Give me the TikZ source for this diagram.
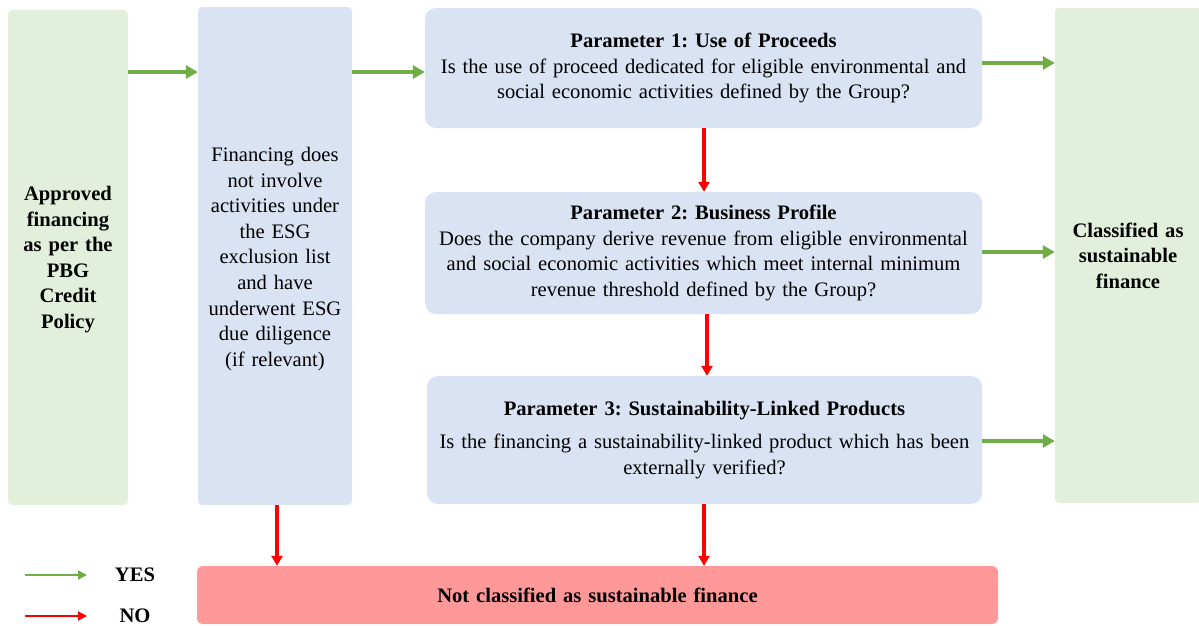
\documentclass[tikz,border=0pt]{standalone}
\usepackage{fontspec}
\setmainfont{Liberation Serif}
\usetikzlibrary{arrows.meta}
\definecolor{boxgreen}{HTML}{E2EFDA}
\definecolor{boxblue}{HTML}{DAE3F3}
\definecolor{boxred}{HTML}{FF9999}
\definecolor{yesgreen}{HTML}{70AD47}
\definecolor{nored}{HTML}{FF0000}
\frenchspacing
\begin{document}
\begin{tikzpicture}[x=1pt,y=-1pt,
  box/.style={rectangle, rounded corners=11pt, inner sep=0pt, align=center,
    font=\fontsize{20.6}{25.6}\selectfont},
  tallbox/.style={box, rounded corners=4pt},
  greenbox/.style={box, fill=boxgreen},
  bluebox/.style={box, fill=boxblue},
  redbox/.style={box, fill=boxred, rounded corners=6pt},
  boxtext/.style={inner sep=0pt, align=center, font=\fontsize{20.6}{25.6}\selectfont},
  yes/.style={draw=yesgreen, line width=3.2pt, -{Triangle[length=12pt,width=13pt]}},
  no/.style={draw=nored, line width=3.2pt, -{Triangle[length=10pt,width=11pt]}},
  yeskey/.style={draw=yesgreen, line width=2pt, -{Triangle[length=9pt,width=9pt]}},
  nokey/.style={draw=nored, line width=2pt, -{Triangle[length=9pt,width=9pt]}},
  keytext/.style={font=\fontsize{20.6}{24}\selectfont\bfseries, inner sep=0pt}
]
\useasboundingbox (0,0) rectangle (1199,625);

% tall columns, text set a little below centre
\node[greenbox, tallbox, minimum width=120pt, minimum height=495pt] (src) at (68,257.5) {};
\node[boxtext, text width=114pt, font=\fontsize{20.6}{25.6}\selectfont\bfseries] (srctext) at ([yshift=-2pt]src.center)
  {Approved\\ financing\\ as per the\\ PBG\\ Credit\\ Policy};
\node[bluebox, tallbox, minimum width=154pt, minimum height=498pt] (excl) at (275,256) {};
\node[boxtext, text width=150pt] (excltext) at ([yshift=-3pt]excl.center)
  {Financing does\\ not involve\\ activities under\\ the ESG\\ exclusion list\\ and have\\ underwent ESG\\ due diligence\\ (if relevant)};

% parameter boxes
\node[bluebox, minimum width=557pt, minimum height=120pt, text width=552pt] (p1) at (703.5,68)
  {\textbf{Parameter 1: Use of Proceeds}\\ Is the use of proceed dedicated for eligible environmental and\\ social economic activities defined by the Group?};
\node[bluebox, minimum width=557pt, minimum height=122pt, text width=552pt] (p2) at (703.5,253)
  {\textbf{Parameter 2: Business Profile}\\ Does the company derive revenue from eligible environmental\\ and social economic activities which meet internal minimum\\ revenue threshold defined by the Group?};
\node[bluebox, minimum width=555pt, minimum height=128pt, text width=552pt] (p3) at (704.5,440)
  {\textbf{Parameter 3: Sustainability-Linked Products}\\[7pt] Is the financing a sustainability-linked product which has been\\ externally verified?};

% outcomes
\node[greenbox, tallbox, minimum width=146pt, minimum height=495pt, text width=140pt] (cls) at (1128,255.5)
  {\bfseries Classified as\\ sustainable\\ finance};
\node[redbox, minimum width=801pt, minimum height=58pt, text width=790pt] (nc) at (597.5,595)
  {\bfseries Not classified as sustainable finance};

% YES connectors
\draw[yes] ([yshift=-4pt]src.east |- p1.west) -- ([yshift=-4pt]excl.west |- p1.west);
\draw[yes] ([yshift=-4pt]excl.east |- p1.west) -- ([yshift=-4pt]p1.west);
\draw[yes] ([yshift=5pt]p1.east) -- ([yshift=5pt]cls.west |- p1.east);
\draw[yes] ([yshift=1pt]p2.east) -- ([yshift=1pt]cls.west |- p2.east);
\draw[yes] ([yshift=-1pt]p3.east) -- ([yshift=-1pt]cls.west |- p3.east);

% NO connectors
\draw[no] (704,128 |- p1.south) -- (704,128 |- p2.north);
\draw[no] (707,314 |- p2.south) -- (707,314 |- p3.north);
\draw[no] (277,0 |- excl.south) -- (277,0 |- nc.north);
\draw[no] (704,0 |- p3.south) -- (704,0 |- nc.north);

% key
\coordinate (ya) at (25,575);
\coordinate (yb) at (87,575);
\coordinate (na) at (25,616);
\coordinate (nb) at (87,616);
\draw[yeskey] (ya) -- (yb);
\draw[nokey] (na) -- (nb);
\node[keytext] (yestxt) at (135,575) {YES};
\node[keytext] (notxt) at (135,616) {NO};
\end{tikzpicture}
\end{document}
